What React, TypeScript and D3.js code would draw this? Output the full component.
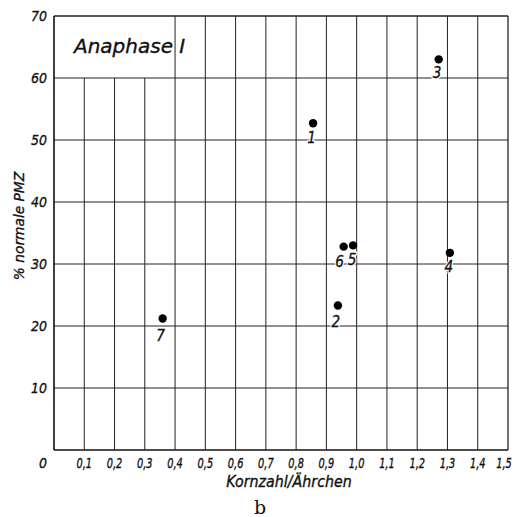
import React from 'react';
import * as d3 from 'd3';

// point labels, Kornzahl/Ährchen, % normale PMZ
const labels = ['1', '2', '3', '4', '5', '6', '7'];
const xValues = [0.856, 0.938, 1.271, 1.308, 0.988, 0.957, 0.359];
const yValues = [52.7, 23.3, 63.0, 31.8, 33.0, 32.8, 21.2];

const xTicks = [0.1, 0.2, 0.3, 0.4, 0.5, 0.6, 0.7, 0.8, 0.9, 1.0, 1.1, 1.2, 1.3, 1.4, 1.5];
const yTicks = [10, 20, 30, 40, 50, 60, 70];

const font = '"DejaVu Sans", sans-serif';

// italic, horizontally squeezed text like the lettering stencil
const Label: React.FC<{
	x: number;
	y: number;
	size: number;
	sx?: number;
	anchor?: 'start' | 'middle' | 'end';
	rotate?: number;
	halo?: boolean;
	children: React.ReactNode;
}> = ({ x, y, size, sx = 1, anchor = 'middle', rotate = 0, halo = false, children }) => (
	<g transform={`translate(${x},${y}) rotate(${rotate}) scale(${sx},1)`}>
		{halo && (
			<text textAnchor={anchor} fontFamily={font} fontStyle='italic' fontSize={size} fill='#fff' stroke='#fff' strokeWidth={3}>
				{children}
			</text>
		)}
		<text
			textAnchor={anchor}
			fontFamily={font}
			fontStyle='italic'
			fontSize={size}
			fill='#111'
			stroke='#111'
			strokeWidth={0.35}
		>
			{children}
		</text>
	</g>
);

const App: React.FC = () => {
	const width = 514;
	const height = 517;
	const margin = { top: 16, right: 6, bottom: 67, left: 54 };

	const x = d3.scaleLinear().domain([0, 1.5]).range([margin.left, width - margin.right]);
	const y = d3.scaleLinear().domain([0, 70]).range([height - margin.bottom, margin.top]);

	const fmt = (d: number) => d3.format('.1f')(d).replace('.', ',');

	// label offsets below each point
	const dx = [-1.5, -2, -1.5, -1, -1, -4, -2];
	const dy = [20, 21, 19, 19, 20, 20, 22];

	return (
		<svg width={width} height={height} style={{ position: 'absolute', left: 0, top: 0, background: '#fff' }}>
			{/* vertical grid, the title box cuts the first ones */}
			{xTicks.map((t) => (
				<line
					key={'vx' + t}
					x1={x(t)}
					x2={x(t)}
					y1={y(0)}
					y2={t < 0.35 ? y(60) : y(70)}
					stroke='#222'
					strokeWidth={t === 1.5 ? 1.3 : 1}
				/>
			))}
			{yTicks.map((t) => (
				<line
					key={'hy' + t}
					x1={x(0)}
					x2={x(1.5)}
					y1={y(t)}
					y2={y(t)}
					stroke='#222'
					strokeWidth={t === 70 ? 1.3 : 1}
				/>
			))}
			<line x1={x(0)} x2={x(0)} y1={y(0)} y2={y(70)} stroke='#111' strokeWidth={1.6} />
			<line x1={x(0)} x2={x(1.5)} y1={y(0)} y2={y(0)} stroke='#111' strokeWidth={1.6} />

			{yTicks.map((t) => (
				<Label key={'yl' + t} x={x(0) - 7} y={y(t) + 5} size={14} sx={0.9} anchor='end'>
					{t}
				</Label>
			))}
			<Label x={x(0) - 11} y={y(0) + 18} size={14} sx={0.9}>
				0
			</Label>
			{xTicks.map((t) => (
				<Label key={'xl' + t} x={t === 1.5 ? x(t) - 4 : x(t)} y={y(0) + 18} size={14} sx={0.7}>
					{fmt(t)}
				</Label>
			))}

			<Label x={289} y={487} size={15} sx={0.95}>
				Kornzahl/Ährchen
			</Label>
			<Label x={24} y={226} size={14.5} sx={0.95} rotate={-90}>
				% normale PMZ
			</Label>
			<text x={260} y={514} textAnchor='middle' fontFamily='"DejaVu Serif", serif' fontSize={19} fill='#111'>
				b
			</text>
			<Label x={74} y={53} size={20} anchor='start'>
				Anaphase I
			</Label>

			{labels.map((l, i) => (
				<g key={'p' + l}>
					<circle cx={x(xValues[i])} cy={y(yValues[i])} r={4.2} fill='#000' />
					<Label x={x(xValues[i]) + dx[i]} y={y(yValues[i]) + dy[i]} size={16} sx={0.85} halo>
						{l}
					</Label>
				</g>
			))}
		</svg>
	);
};

export default App;
